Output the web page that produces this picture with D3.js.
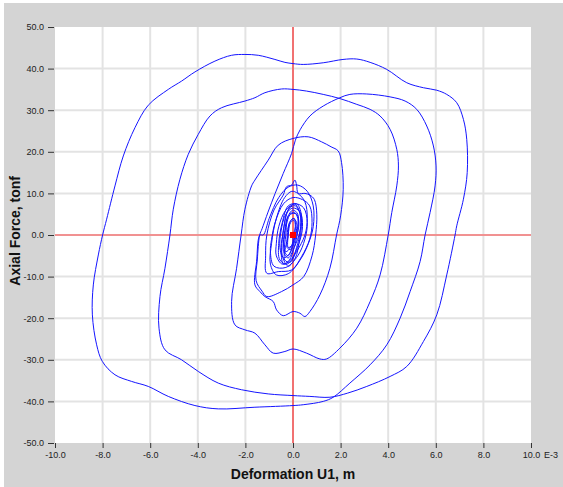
<!DOCTYPE html>
<html>
<head>
<meta charset="utf-8">
<script src="https://d3js.org/d3.v7.min.js"></script>
<style>
  body { margin: 0; background: #fff; }
  .axis text { font-family: "Liberation Sans", Arial, sans-serif; font-size: 9px; fill: #222; }
  .axis line { stroke: #333; }
  .axis path { display: none; }
  .title { font-family: "Liberation Sans", Arial, sans-serif; font-weight: bold; font-size: 14px; fill: #111; }
</style>
</head>
<body>
<script>
// 画布尺寸
var w = 563;
var h = 487;

// 刻度
var xTicks = [-10, -8, -6, -4, -2, 0, 2, 4, 6, 8, 10];
var yTicks = [-50, -40, -30, -20, -10, 0, 10, 20, 30, 40, 50];

// 滞回曲线各段 [变形 E-3 m, 轴力 tonf]，按时间顺序相接
var growLoops = [
  [0, 0], [0.1, 2], [0.05, 4], [-0.15, 3], [-0.2, 0], [-0.25, -3], [-0.1, -3.5], [0.05, -1],
  [0.2, 2], [0.2, 5], [0, 6], [-0.25, 4], [-0.35, 0], [-0.4, -4], [-0.2, -5.5], [0.05, -3],
  [0.3, 1], [0.35, 5], [0.15, 7.5], [-0.2, 7], [-0.45, 3], [-0.6, -2], [-0.55, -6], [-0.25, -7], [0.15, -4],
  [0.5, 0], [0.6, 4], [0.5, 8], [0.2, 10], [-0.05, 10.5], [-0.35, 9], [-0.7, 4], [-0.9, -2],
  [-0.95, -7], [-0.7, -9.6], [-0.2, -9.3], [0.3, -6], [0.65, -2],
  [0.85, 2], [0.85, 7], [0.6, 10.5], [0.2, 12], [-0.2, 11.5], [-0.6, 9], [-1.0, 4], [-1.25, 0]
];
var segL4 = [
  [-1.39, 0], [-1.53, -6.4], [-1.6, -12], [-1.39, -13.6], [-1.18, -14.8], [-0.83, -16],
  [-0.69, -18], [-0.41, -19.4], [0, -18.4]
];
var segBR4 = [
  [0.29, -18.8], [0.5, -19.6], [0.71, -18.4], [1.13, -14.4], [1.55, -8], [1.83, 0]
];
var segR4 = [
  [2.0, 4.6], [2.11, 11], [2.04, 17.4], [1.9, 20.2], [1.6, 21.2], [1.2, 22.4],
  [0.64, 23.6], [0, 23.2]
];
var segC3 = [
  [-0.62, 21.6], [-1.04, 18], [-1.6, 13.2], [-1.74, 11.8], [-2.02, 6.2], [-2.18, 0]
];
var segL3 = [
  [-2.37, -8], [-2.58, -16], [-2.44, -21.6], [-2.02, -22.8], [-1.6, -23.6], [-1.18, -26.4],
  [-0.83, -28.4], [-0.34, -28], [0, -27.4]
];
var segBR3 = [
  [0.57, -28.4], [1.13, -29.8], [1.41, -29.8], [1.97, -27.2], [2.68, -22.4], [3.24, -16],
  [3.66, -9.6], [4.0, 0]
];
var segR2 = [
  [4.15, 5.4], [4.36, 11.8], [4.43, 16.6], [4.36, 20.6], [4.08, 25.4], [3.66, 28.6],
  [3.24, 30.2], [2.68, 31.4], [1.97, 32.8], [1.27, 33.8], [0.57, 34.6], [0, 35]
];
var segC2 = [
  [-0.48, 35.1], [-1.18, 34.2], [-1.6, 33], [-2.02, 32.2], [-3.0, 30.6], [-3.49, 28.6],
  [-3.98, 24.2], [-4.4, 19.4], [-4.75, 13.4], [-5.03, 6.2], [-5.17, 0]
];
var segL2 = [
  [-5.38, -8], [-5.59, -14.8], [-5.63, -22.4], [-5.38, -27.6], [-4.68, -30], [-3.98, -32.8],
  [-3.14, -35.6], [-2.16, -37.2], [-1.04, -38.2], [0, -38.6]
];
var segBR1 = [
  [0.71, -38.8], [1.55, -39], [2.3, -38], [3.1, -36.4], [4.08, -34], [4.78, -31.6],
  [5.48, -25.6], [6.04, -19.2], [6.46, -9.6], [6.81, 0]
];
var segR1 = [
  [6.88, 2.2], [7.16, 8.6], [7.32, 15], [7.3, 23], [7.16, 27.8], [6.88, 31.8], [6.46, 33.8],
  [6.04, 34.8], [5.48, 35.4], [4.78, 36.6], [3.94, 39.8], [3.24, 41.5], [2.68, 42.3],
  [2.1, 42.2], [1.27, 41.4], [0.43, 41], [0, 41.2]
];
var segC1 = [
  [-0.34, 41.5], [-0.76, 42.2], [-1.46, 43.2], [-2.02, 43.4], [-2.58, 43.2], [-3.28, 41.8],
  [-4.12, 39.2], [-4.68, 37], [-5.24, 35], [-6.08, 31.2], [-6.64, 25.8], [-7.13, 19],
  [-7.48, 11.8], [-7.83, 3.8], [-8.0, 0]
];
var segL1 = [
  [-8.18, -4.8], [-8.39, -12], [-8.43, -19.2], [-8.25, -26.4], [-8.01, -30.4], [-7.48, -33.6],
  [-6.78, -35.2], [-6.08, -36.4], [-5.24, -38.8], [-4.12, -41], [-3.14, -41.8], [-1.6, -41.4],
  [0, -41]
];
var segBR2 = [
  [0.43, -40.8], [1.27, -40], [1.69, -39], [2.39, -35.6], [3.24, -31.2], [3.94, -26.4],
  [4.5, -20], [4.92, -13.6], [5.34, -6.4], [5.55, 0]
];
var segR3 = [
  [5.76, 5.4], [5.97, 11.8], [6.01, 16.6], [5.9, 21.4], [5.62, 26.2], [5.2, 30.2],
  [4.71, 32.2], [4.08, 33.2], [3.1, 33.9], [2.39, 33.8], [1.97, 33], [1.27, 31],
  [0.71, 28.6], [0.3, 25.3], [0.1, 22.8], [-0.06, 19.6], [-0.41, 14.8], [-0.75, 10],
  [-1.05, 5.5], [-1.3, 1.5], [-1.4, 0]
];
var decayLoops = [
  [-1.5, -6], [-1.55, -11], [-1.3, -13.5], [-1.1, -14.8], [-0.48, -13.6], [0, -12],
  [0.45, -10], [0.8, -5], [0.95, 0], [1.0, 5], [0.9, 8.5], [0.71, 9.6], [0.5, 10],
  [0.22, 10], [0.15, 12], [0.08, 13.2], [-0.06, 12], [-0.27, 11.6], [-0.41, 9.6],
  [-0.8, 6], [-1.1, 0],
  [-1.15, -5], [-1.1, -9.2], [-0.62, -8.8], [-0.06, -8.4], [0.36, -5.2], [0.7, -1],
  [0.8, 3], [0.7, 7], [0.4, 8.5], [0, 9], [-0.4, 7.5], [-0.75, 3], [-0.9, -1],
  [-0.95, -4], [-0.8, -7.5], [-0.3, -7.8], [0.2, -5], [0.5, -1], [0.6, 3], [0.45, 6.5],
  [0.1, 7.5], [-0.3, 6], [-0.6, 2], [-0.7, -2],
  [-0.7, -5], [-0.45, -7], [-0.1, -6], [0.25, -2], [0.4, 2], [0.3, 5.5], [0, 6.5],
  [-0.3, 5], [-0.5, 1], [-0.55, -3],
  [-0.4, -5.5], [-0.15, -4.5], [0.1, -1], [0.25, 2.5], [0.15, 5], [-0.1, 5], [-0.3, 2],
  [-0.4, -2], [-0.3, -4], [-0.1, -3], [0.1, 0], [0.15, 3], [0, 4], [-0.2, 2], [-0.25, -1]
];
// 原点附近的密集小环
var coreLoops = [
  [-0.35, -6], [-0.1, -6.5], [0.15, -3], [0.3, 1], [0.3, 5], [0.1, 7], [-0.15, 6.5],
  [-0.35, 3], [-0.45, -1], [-0.45, -5], [-0.2, -7.5], [0.1, -5.5], [0.25, -2], [0.35, 2],
  [0.25, 6], [0.05, 7.5], [-0.25, 5.5], [-0.4, 1], [-0.5, -3], [-0.4, -7], [-0.15, -6],
  [0.05, -3], [0.2, 1], [0.2, 4], [0.05, 5.5], [-0.2, 4.5], [-0.3, 0], [-0.35, -4],
  [-0.2, -5], [0, -2], [0.1, 2], [0.05, 3.5], [-0.1, 3], [-0.2, 0], [-0.2, -3],
  [-0.05, -2.5], [0, 0]
];

// 按时间顺序拼接
var path = [].concat(growLoops, segL4, segBR4, segR4, segC3, segL3, segBR3, segR2, segC2,
  segL2, segBR1, segR1, segC1, segL1, segBR2, segR3, decayLoops, coreLoops);

var svg = d3.select("body").append("svg").attr("width", w).attr("height", h);

// 灰色背景面板
svg.append("rect").attr("x", 4).attr("y", 3).attr("width", w - 4).attr("height", h - 3)
  .attr("fill", "#d4d4d4");

var xScale = d3.scaleLinear().domain([-10, 10]).range([55, 531]);
var yScale = d3.scaleLinear().domain([-50, 50]).range([443, 27]);

// 白色绘图区
svg.append("rect")
  .attr("x", xScale(-10)).attr("y", yScale(50))
  .attr("width", xScale(10) - xScale(-10)).attr("height", yScale(-50) - yScale(50))
  .attr("fill", "#fff");

// 网格线
svg.append("g").selectAll("line").data(xTicks.slice(1, -1)).enter().append("line")
  .attr("x1", function (d) { return xScale(d); }).attr("x2", function (d) { return xScale(d); })
  .attr("y1", yScale(50)).attr("y2", yScale(-50))
  .attr("stroke", "#e3e3e3").attr("stroke-width", 2);
svg.append("g").selectAll("line").data(yTicks.slice(1, -1)).enter().append("line")
  .attr("y1", function (d) { return yScale(d); }).attr("y2", function (d) { return yScale(d); })
  .attr("x1", xScale(-10)).attr("x2", xScale(10))
  .attr("stroke", "#e3e3e3").attr("stroke-width", 2);

// 坐标轴（用普通连字符作负号）
var fmt = function (d) { return d3.format(".1f")(d).replace("\u2212", "-"); };
var xAxis = d3.axisBottom(xScale).tickValues(xTicks).tickSize(5).tickPadding(4).tickFormat(fmt);
var yAxis = d3.axisLeft(yScale).tickValues(yTicks).tickSize(6).tickPadding(4).tickFormat(fmt);

svg.append("g").attr("class", "axis")
  .attr("transform", "translate(0," + yScale(-50) + ")").call(xAxis);
svg.append("g").attr("class", "axis")
  .attr("transform", "translate(" + (xScale(-10) - 1) + ",0)").call(yAxis);

// 单位倍数
svg.append("text")
  .attr("x", xScale(10) + 13).attr("y", yScale(-50) + 9).attr("dy", "0.71em")
  .style("font-family", "Liberation Sans, Arial, sans-serif").style("font-size", "9px")
  .attr("fill", "#222").text("E-3");

// 红色零轴
svg.append("line").attr("x1", xScale(0)).attr("x2", xScale(0))
  .attr("y1", yScale(50)).attr("y2", yScale(-50)).attr("stroke", "#ff0000");
svg.append("line").attr("y1", yScale(0)).attr("y2", yScale(0))
  .attr("x1", xScale(-10)).attr("x2", xScale(10)).attr("stroke", "#ff4040");

// 滞回曲线
var line = d3.line()
  .x(function (d) { return xScale(d[0]); })
  .y(function (d) { return yScale(d[1]); })
  .curve(d3.curveCatmullRom.alpha(0.5));

svg.append("path").datum(path)
  .attr("d", line)
  .attr("fill", "none")
  .attr("stroke", "#1515ff")
  .attr("stroke-width", 1);

// 当前点
svg.append("rect")
  .attr("x", xScale(0) - 3).attr("y", yScale(0) - 3)
  .attr("width", 6).attr("height", 6).attr("fill", "#ff0000");

// 轴标题
svg.append("text").attr("class", "title")
  .attr("x", xScale(0)).attr("y", 479).attr("text-anchor", "middle")
  .text("Deformation U1, m");
svg.append("text").attr("class", "title")
  .attr("transform", "translate(20," + yScale(1) + ") rotate(-90)")
  .attr("text-anchor", "middle")
  .text("Axial Force, tonf");
</script>
</body>
</html>
